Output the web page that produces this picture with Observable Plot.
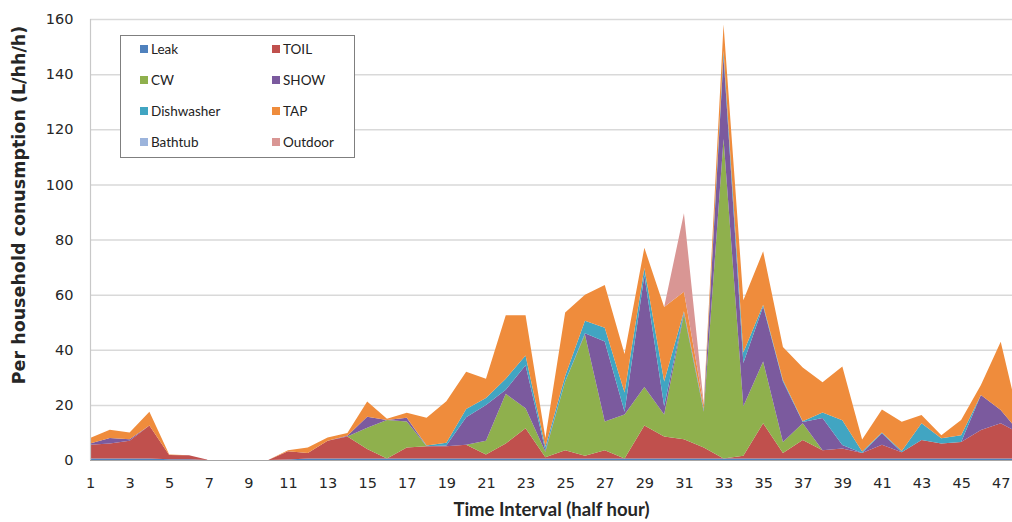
<!DOCTYPE html>
<html><head><meta charset="utf-8">
<script src="https://cdn.jsdelivr.net/npm/d3@7"></script>
<script src="https://cdn.jsdelivr.net/npm/@observablehq/plot@0.6"></script>
<style>
body{margin:0;background:#fff;font-family:Lato,"Open Sans",sans-serif;}
#wrap{position:relative;width:1012px;height:522px;overflow:hidden}
#legend{position:absolute;left:120px;top:35px;width:235px;height:123px;border:1px solid #7f7f7f;background:#fff;box-sizing:border-box;font-size:13.5px;color:#222;font-family:Lato,sans-serif}
.item{position:absolute;display:flex;align-items:center;height:16px;line-height:16px}
.sw{width:8px;height:8px;margin-right:3px;display:inline-block}
</style></head>
<body><div id="wrap"></div>
<script>
const intervals = d3.range(1, 49);
const seriesNames = ["Leak","TOIL","CW","SHOW","Dishwasher","TAP","Bathtub","Outdoor"];
const seriesColors = ["#4f81bd","#c0504d","#8fb04d","#7b5a9e","#41a5c2","#ef8c3c","#9cb4dc","#d99694"];
const xTicks = d3.range(1, 48, 2);
const yTicks = [0,20,40,60,80,100,120,140,160];
const yTitle = "Per household conusmption (L/hh/h)";
const xTitle = "Time Interval (half hour)";

const leak    = [0.5,0.5,0.5,0.5,0.3,0.3,0,0,0,0,0.2,0.5,0.5,0.5,0.5,0.5,0.5,0.5,0.5,0.5,0.5,0.5,0.5,0.5,0.5,0.5,0.5,0.5,0.5,0.5,0.5,0.5,0.5,0.5,0.5,0.5,0.5,0.5,0.5,0.5,0.5,0.5,0.5,0.5,0.5,0.5,0.5,0.5];
const toil    = [5,5.5,6.5,12,1.5,1.4,0,0,0,0,3,2,6.5,8,3.5,0,4,4.5,4.5,5,1.5,5.5,11,0.5,3,1,3,0,12,8,7,4,0,1,12.8,2,6.8,3,3.7,2,5,2.3,6.8,5.5,6,10.4,12.8,9];
const cw      = [0,0,0,0,0,0,0,0,0,0,0,0,0,0,7.7,14,9.5,0,0,0,5,18,7.3,2,25,44,10.5,16,14,8,45.5,13,116,18,22.4,4,6,0,0,0,0,0,0,0,0,0,0,0];
const show    = [0.5,2,0.5,0,0,0,0,0,0,0,0,0,0,0.3,4,0,1.3,0,0.3,10,13,1.5,15.6,0.5,0,0.5,29,1,40.5,3,0.5,0.5,30,15.7,20,22,0.5,11.7,1.2,0,4.2,0,0,0,0,12.7,4.8,0];
const dish    = [0,0,0,0,0,0,0,0,0,0,0,0,0,0,0,0,0,0.3,1,3,2.5,4,3.5,1.3,2,4.5,5,7,2.7,9,0.5,0.5,2,3.8,0.6,0.5,0.3,2,9,0.6,0.3,0.5,6,1.9,2.5,0,0,0];
const tap     = [2,3,2.5,5,0.2,0,0,0,0,0,0.3,2,1.2,1,5.5,0.5,1.8,10,15,13.5,7,23,14.6,3.2,23,9.5,15.5,14,7.3,27,7,1.5,9.5,19,19.4,12,19.5,11,19.5,4.3,8.3,10.6,3,1.1,5.5,3.6,24.8,3];
const bathtub = [0,0,0,0,0,0,0,0,0,0,0,0,0,0,0,0,0,0,0,0,0,0,0,0,0,0,0,0,0,0,0,0,0,0,0,0,0,0,0,0,0,0,0,0,0,0,0,0];
const outdoor = [0,0,0,0,0,0,0,0,0,0,0,0,0,0,0,0,0,0,0,0,0,0,0,0,0,0,0,0,0,0,28.5,0.5,0,0,0,0,0,0,0,0,0,0,0,0,0,0,0,0];

const values = [leak, toil, cw, show, dish, tap, bathtub, outdoor];
const table = [];
seriesNames.forEach((s, k) => values[k].forEach((v, i) => table.push({interval: intervals[i], series: s, value: v})));

const chart = Plot.plot({
  width: 1012, height: 522,
  marginLeft: 90, marginRight: 0, marginTop: 19, marginBottom: 62,
  style: {fontFamily: "'DejaVu Sans', sans-serif", fontSize: "14px", color: "#262626", background: "#fff"},
  x: {domain: [1, 47.57], label: null},
  y: {domain: [0, 160], label: null},
  color: {domain: seriesNames, range: seriesColors},
  marks: [
    Plot.gridY(yTicks.slice(1), {stroke: "#d9d9d9", strokeOpacity: 1, strokeWidth: 1.5}),
    Plot.areaY(table, {x: "interval", y: "value", fill: "series", order: seriesNames, clip: true}),
    Plot.ruleY([0], {stroke: "#a6a6a6", strokeWidth: 1.2}),
    Plot.ruleX([1], {stroke: "#c8c8c8", strokeWidth: 1.2}),
    Plot.axisX(xTicks, {tickSize: 0, tickPadding: 17, label: null, tickFormat: d => d, fontSize: 14.5}),
    Plot.axisY(yTicks, {tickSize: 0, tickPadding: 17, label: null, fontSize: 14.5}),
    Plot.text([yTitle], {text: d => d, frameAnchor: "left", textAnchor: "middle", rotate: -90, dx: -71, dy: -35, fontWeight: "bold", fontSize: 17.5, fontFamily: "'DejaVu Sans', sans-serif", fill: "#262626"}),
    Plot.text([xTitle], {text: d => d, frameAnchor: "bottom", dy: 55, fontWeight: "bold", fontSize: 18.5, fontFamily: "Lato, sans-serif", fill: "#262626"})
  ]
});
const wrap = document.getElementById("wrap");
wrap.appendChild(chart);

const legend = document.createElement("div");
legend.id = "legend";
const rows = [[0,1],[2,3],[4,5],[6,7]];
rows.forEach((pair, r) => pair.forEach((k, c) => {
  const it = document.createElement("div");
  it.className = "item";
  it.style.left = (c === 0 ? 19 : 151) + "px";
  it.style.top = (5 + r * 31) + "px";
  it.innerHTML = `<span class="sw" style="background:${seriesColors[k]}"></span>${seriesNames[k]}`;
  legend.appendChild(it);
}));
wrap.appendChild(legend);
</script>
</body></html>
